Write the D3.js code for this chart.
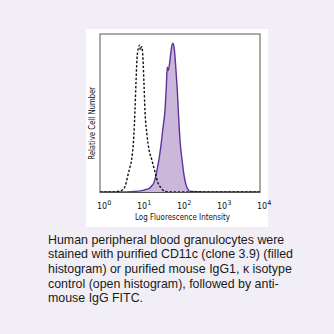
<!DOCTYPE html>
<html>
<head>
<meta charset="utf-8">
<script src="https://cdn.jsdelivr.net/npm/d3@7"></script>
<style>
  html, body { margin: 0; padding: 0; background: #f1eff5; }
  svg { display: block; }
</style>
</head>
<body>
<svg id="chart" width="334" height="334"></svg>
<script>
// Isotype control (open histogram): fluorescence intensity vs. relative count
const isotypeIntensity = [1, 2.0, 2.8, 3.8, 4.5, 5.0, 5.6, 6.2, 6.9, 7.5, 7.9, 8.4, 9.1, 9.8, 10.2, 11.0, 11.9, 12.6, 13.3, 15.0, 16.8, 19.5, 23.7, 28.2, 33.5, 42.2, 100, 10000];
const isotypeCount     = [0.3, 0.3, 0.6, 2, 6, 11, 16, 21, 33, 52, 68, 84, 91, 93, 90, 92, 84, 68, 52, 36, 27, 21, 13, 6, 3, 0.6, 0.3, 0.3];

// CD11c stained (filled histogram)
const cd11cIntensity = [1, 4.7, 7.5, 11.9, 14.1, 16.8, 20.0, 22.4, 25.1, 27.5, 29.9, 33.5, 37.6, 42.2, 45.7, 47.9, 51.0, 54.6, 59.6, 64.9, 67.6, 72.4, 79.4, 86.6, 91.9, 100, 112, 126, 141, 158, 188, 400, 10000];
const cd11cCount     = [0.3, 0.3, 0.6, 1.3, 2, 2.5, 4.4, 6.3, 11, 16, 21, 30, 41, 52, 68, 79, 77, 81, 89, 94, 94, 90, 77, 62, 49, 33, 21, 11, 5, 2, 0.6, 0.3, 0.3];

const tickExponents = [0, 1, 2, 3, 4];
const xTitle = "Log Fluorescence Intensity";
const yTitle = "Relative Cell Number";
const captionLines = [
  "Human peripheral blood granulocytes were",
  "stained with purified CD11c (clone 3.9) (filled",
  "histogram) or purified mouse IgG1, \u03BA isotype",
  "control (open histogram), followed by anti-",
  "mouse IgG FITC."
];

const svg = d3.select("#chart");

// white card behind the plot
svg.append("rect")
  .attr("x", 86).attr("y", 29).attr("width", 182).attr("height", 198)
  .attr("fill", "#ffffff");

const plot = { left: 100, right: 260, top: 34, bottom: 192.5 };

const x = d3.scaleLog().domain([1, 10000]).range([plot.left, plot.right]);
const y = d3.scaleLinear().domain([0, 100]).range([plot.bottom, plot.top]);

const cd11c = cd11cIntensity.map((v, i) => [v, cd11cCount[i]]);
const isotype = isotypeIntensity.map((v, i) => [v, isotypeCount[i]]);

const area = d3.area()
  .x(d => x(d[0])).y0(y(0)).y1(d => y(d[1]))
  .curve(d3.curveMonotoneX);
const line = d3.line()
  .x(d => x(d[0])).y(d => y(d[1]))
  .curve(d3.curveMonotoneX);

svg.append("path")
  .datum(cd11c)
  .attr("d", area)
  .attr("fill", "#cbb7da");

svg.append("path")
  .datum(cd11c)
  .attr("d", line)
  .attr("fill", "none")
  .attr("stroke", "#5e329a")
  .attr("stroke-width", 1.4);

svg.append("path")
  .datum(isotype)
  .attr("d", line)
  .attr("fill", "none")
  .attr("stroke", "#111")
  .attr("stroke-width", 1.4)
  .attr("stroke-dasharray", "2.4,1.8");

// plot frame
svg.append("rect")
  .attr("x", plot.left).attr("y", plot.top)
  .attr("width", plot.right - plot.left).attr("height", plot.bottom - plot.top)
  .attr("fill", "none")
  .attr("stroke", "#555")
  .attr("stroke-width", 1);

// decade tick labels: 10 with superscript exponent
const tickG = svg.append("g")
  .attr("font-family", "DejaVu Sans, Verdana, sans-serif")
  .attr("fill", "#111");
tickExponents.forEach(e => {
  const t = tickG.append("text")
    .attr("x", x(Math.pow(10, e)) - 3)
    .attr("y", 208.5)
    .attr("font-size", 8);
  t.append("tspan").text("10");
  t.append("tspan").attr("dy", -4).attr("font-size", 6.5).text(String(e));
});

svg.append("text")
  .attr("x", 182.5).attr("y", 219.5)
  .attr("text-anchor", "middle")
  .attr("font-family", "DejaVu Sans, Verdana, sans-serif")
  .attr("font-size", 8.5)
  .attr("textLength", 95)
  .attr("lengthAdjust", "spacingAndGlyphs")
  .attr("fill", "#111")
  .text(xTitle);

svg.append("text")
  .attr("transform", "translate(95,123.3) rotate(-90)")
  .attr("text-anchor", "middle")
  .attr("font-family", "DejaVu Sans, Verdana, sans-serif")
  .attr("font-size", 8.5)
  .attr("textLength", 73)
  .attr("lengthAdjust", "spacingAndGlyphs")
  .attr("fill", "#111")
  .text(yTitle);

// caption
const cap = svg.append("text")
  .attr("font-family", "Liberation Sans, Arial, sans-serif")
  .attr("font-size", 12.4)
  .attr("fill", "#1a1a1a");
captionLines.forEach((s, i) => {
  cap.append("tspan").attr("x", 48).attr("y", 243.5 + i * 14.7).text(s);
});
</script>
</body>
</html>
